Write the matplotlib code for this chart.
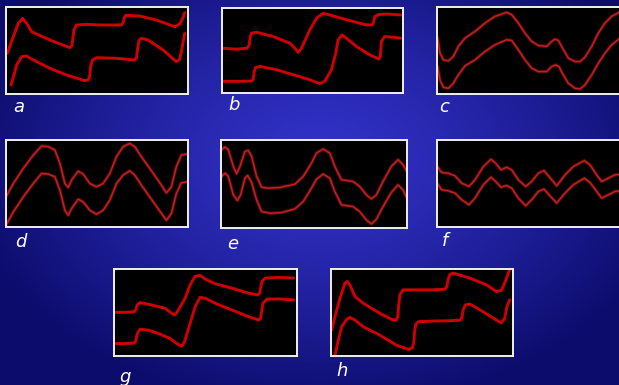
import numpy as np
import matplotlib
matplotlib.use("Agg")
import matplotlib.pyplot as plt

# traces per panel, in panel screen units (y grows downward)
a_top_x = [22, 40, 55, 68, 80, 95, 150, 210, 216, 219, 222, 230, 260, 300, 365, 370, 374, 378, 420, 470, 525, 540, 548, 555]
a_top_y = [160, 110, 70, 55, 70, 95, 120, 143, 138, 115, 90, 75, 73, 75, 75, 68, 52, 46, 48, 60, 80, 72, 58, 38]
a_bot_x = [33, 42, 50, 65, 80, 100, 150, 200, 255, 265, 270, 272, 278, 290, 350, 405, 410, 413, 418, 425, 445, 490, 530, 540, 546, 555]
a_bot_y = [255, 225, 195, 170, 168, 180, 205, 225, 242, 240, 225, 200, 180, 173, 175, 180, 175, 150, 120, 115, 120, 150, 185, 178, 150, 100]

b_top_x = [38, 80, 112, 118, 121, 125, 140, 190, 240, 255, 265, 275, 300, 320, 340, 360, 420, 470, 488, 492, 495, 505, 530, 573]
b_top_y = [145, 148, 145, 135, 110, 100, 97, 110, 130, 145, 158, 145, 90, 55, 40, 45, 62, 75, 75, 65, 50, 44, 42, 45]
b_bot_x = [36, 80, 125, 130, 133, 137, 150, 200, 250, 300, 330, 345, 365, 378, 385, 397, 410, 440, 480, 508, 512, 515, 525, 550, 573]
b_bot_y = [245, 245, 244, 238, 215, 203, 200, 210, 225, 240, 252, 245, 210, 160, 120, 105, 115, 140, 165, 178, 168, 125, 110, 112, 115]

c_top_x = [38, 45, 55, 70, 85, 100, 120, 150, 180, 210, 245, 260, 280, 300, 320, 340, 365, 380, 390, 400, 410, 430, 450, 465, 480, 500, 520, 540, 560, 582]
c_top_y = [115, 160, 180, 183, 170, 140, 115, 95, 70, 50, 38, 45, 70, 100, 125, 137, 140, 125, 118, 122, 140, 175, 185, 185, 172, 140, 100, 70, 50, 38]
c_bot_x = [38, 45, 55, 70, 85, 100, 120, 150, 180, 210, 245, 260, 280, 300, 320, 340, 365, 380, 392, 402, 412, 430, 450, 465, 480, 500, 520, 540, 560, 582]
c_bot_y = [200, 240, 262, 265, 250, 225, 198, 180, 155, 135, 120, 122, 150, 180, 205, 215, 215, 200, 195, 200, 220, 250, 265, 267, 255, 225, 190, 160, 135, 118]

d_top_x = [18, 40, 70, 100, 125, 145, 165, 180, 195, 205, 215, 235, 250, 270, 290, 310, 330, 350, 370, 390, 405, 425, 450, 475, 500, 515, 530, 545, 562]
d_top_y = [200, 160, 115, 75, 48, 50, 60, 100, 160, 172, 150, 123, 132, 160, 170, 160, 130, 80, 50, 40, 50, 80, 115, 150, 188, 170, 110, 75, 72]
d_bot_x = [18, 40, 70, 100, 125, 145, 165, 180, 195, 205, 215, 235, 250, 270, 290, 310, 330, 350, 370, 390, 405, 425, 450, 475, 500, 515, 530, 545, 562]
d_bot_y = [285, 245, 200, 160, 130, 132, 140, 180, 240, 255, 235, 207, 215, 240, 252, 240, 210, 160, 135, 122, 135, 165, 200, 235, 270, 250, 190, 158, 155]

e_top_x = [35, 45, 55, 70, 80, 90, 105, 115, 125, 140, 155, 175, 210, 255, 280, 305, 320, 340, 360, 375, 395, 430, 450, 470, 485, 500, 520, 545, 565, 580, 592]
e_top_y = [60, 52, 60, 110, 132, 110, 65, 62, 80, 140, 172, 175, 173, 163, 140, 100, 70, 58, 70, 110, 150, 155, 170, 195, 207, 195, 155, 110, 90, 105, 125]
e_bot_x = [35, 45, 55, 70, 82, 92, 105, 113, 125, 140, 155, 180, 215, 255, 280, 305, 320, 340, 360, 375, 395, 430, 450, 470, 485, 500, 520, 545, 565, 580, 592]
e_bot_y = [140, 130, 140, 195, 212, 195, 145, 137, 158, 210, 245, 250, 248, 237, 215, 175, 148, 133, 145, 185, 225, 230, 245, 270, 282, 268, 230, 188, 165, 180, 205]

f_top_x = [36, 50, 70, 90, 110, 132, 150, 175, 198, 212, 228, 245, 260, 280, 302, 320, 340, 357, 372, 395, 420, 445, 478, 495, 515, 530, 550, 570, 588]
f_top_y = [108, 128, 130, 138, 160, 170, 150, 110, 88, 100, 120, 112, 120, 150, 170, 155, 130, 122, 140, 168, 135, 110, 92, 105, 135, 155, 145, 135, 133]
f_bot_x = [36, 50, 70, 90, 110, 132, 150, 175, 198, 212, 228, 245, 260, 280, 302, 320, 340, 357, 372, 395, 420, 445, 478, 495, 515, 530, 550, 570, 588]
f_bot_y = [160, 180, 183, 190, 210, 225, 205, 165, 142, 155, 172, 167, 175, 205, 228, 210, 185, 178, 195, 220, 190, 165, 145, 158, 185, 205, 195, 185, 183]

g_top_x = [27, 60, 88, 93, 96, 105, 140, 180, 200, 208, 215, 240, 255, 270, 285, 300, 330, 380, 430, 458, 463, 466, 470, 480, 520, 565]
g_top_y = [157, 157, 155, 148, 135, 128, 135, 145, 160, 165, 158, 115, 75, 50, 47, 58, 72, 85, 100, 105, 100, 85, 65, 55, 53, 55]
g_bot_x = [27, 60, 88, 93, 96, 105, 130, 160, 195, 215, 230, 238, 255, 270, 285, 300, 330, 380, 430, 460, 466, 469, 473, 485, 520, 565]
g_bot_y = [250, 250, 248, 240, 222, 207, 210, 220, 235, 250, 258, 245, 190, 140, 112, 115, 130, 150, 170, 180, 175, 155, 130, 118, 117, 120]

h_top_x = [35, 45, 60, 75, 82, 92, 105, 130, 180, 215, 230, 234, 236, 240, 250, 290, 340, 376, 381, 385, 390, 400, 450, 500, 530, 545, 555, 570]
h_top_y = [210, 170, 115, 70, 65, 80, 110, 130, 160, 178, 180, 170, 140, 105, 90, 90, 90, 88, 80, 60, 45, 40, 55, 75, 95, 92, 70, 30]
h_bot_x = [45, 55, 65, 80, 90, 105, 130, 180, 230, 268, 278, 282, 284, 288, 295, 340, 390, 423, 427, 430, 437, 450, 490, 530, 545, 555, 562, 570]
h_bot_y = [285, 240, 200, 178, 172, 180, 200, 225, 255, 268, 262, 245, 215, 192, 185, 183, 182, 180, 170, 150, 135, 132, 155, 180, 188, 175, 140, 120]

labels = ["a", "b", "c", "d", "e", "f", "g", "h"]

W, H = 619, 385

# box on the page (px, top-left origin), view limits, label spot, thick/thin style
panels = {
    "a": dict(box=(6, 7, 188, 94), xl=(18, 565), yl=(282, 21), lab=(19, 107), thick=True,
              traces=[(a_top_x, a_top_y), (a_bot_x, a_bot_y)]),
    "b": dict(box=(222, 8, 403, 93), xl=(36, 580), yl=(280, 24), lab=(234, 105), thick=True,
              traces=[(b_top_x, b_top_y), (b_bot_x, b_bot_y)]),
    "c": dict(box=(437, 7, 621, 94), xl=(36, 588), yl=(282, 22), lab=(444, 107), thick=False,
              traces=[(c_top_x, c_top_y), (c_bot_x, c_bot_y)]),
    "d": dict(box=(6, 140, 188, 227), xl=(18, 565), yl=(290, 30), lab=(21, 242), thick=False,
              traces=[(d_top_x, d_top_y), (d_bot_x, d_bot_y)]),
    "e": dict(box=(221, 140, 407, 228), xl=(33, 592), yl=(294, 31), lab=(233, 244), thick=False,
              traces=[(e_top_x, e_top_y), (e_bot_x, e_bot_y)]),
    "f": dict(box=(437, 140, 621, 227), xl=(36, 588), yl=(292, 30), lab=(445, 241), thick=False,
              traces=[(f_top_x, f_top_y), (f_bot_x, f_bot_y)]),
    "g": dict(box=(114, 269, 297, 356), xl=(27, 575), yl=(287, 28), lab=(125, 377), thick=True,
              traces=[(g_top_x, g_top_y), (g_bot_x, g_bot_y)]),
    "h": dict(box=(331, 269, 513, 356), xl=(33, 580), yl=(287, 28), lab=(342, 371), thick=True,
              traces=[(h_top_x, h_top_y), (h_bot_x, h_bot_y)]),
}

fig = plt.figure(figsize=(W / 100, H / 100), dpi=100)

# blue slide background, brighter in the middle
bg = fig.add_axes([0, 0, 1, 1])
yy, xx = np.mgrid[0:H, 0:W]
r = np.sqrt(((xx - 320) / 360.0) ** 2 + ((yy - 160) / 250.0) ** 2)
r = np.clip(r, 0, 1) ** 1.3
inner = np.array([50, 50, 200]) / 255.0
outer = np.array([12, 12, 108]) / 255.0
img = inner[None, None, :] * (1 - r[..., None]) + outer[None, None, :] * r[..., None]
bg.imshow(img, extent=(0, W, H, 0), aspect="auto", interpolation="bilinear")
bg.set_xlim(0, W)
bg.set_ylim(H, 0)
bg.axis("off")

for name in labels:
    p = panels[name]
    x0, y0, x1, y1 = p["box"]
    ax = fig.add_axes([x0 / W, 1 - y1 / H, (x1 - x0) / W, (y1 - y0) / H])
    ax.set_facecolor("black")
    for tx, ty in p["traces"]:
        if p["thick"]:
            ax.plot(tx, ty, color="#d00000", lw=2.1, solid_joinstyle="round",
                    solid_capstyle="round")
        else:
            ax.plot(tx, ty, color="#7a1010", lw=2.6, alpha=0.6, solid_joinstyle="round")
            ax.plot(tx, ty, color="#c42020", lw=1.1, solid_joinstyle="round")
    ax.set_xlim(*p["xl"])
    ax.set_ylim(*p["yl"])
    ax.set_xticks([])
    ax.set_yticks([])
    for s in ax.spines.values():
        s.set_color("#f0f0f0")
        s.set_linewidth(1.4)
    lx, ly = p["lab"]
    fig.text(lx / W, 1 - ly / H, name, ha="center", va="center", color="white",
             fontsize=13, style="italic")

fig.savefig("out.png", dpi=100)
